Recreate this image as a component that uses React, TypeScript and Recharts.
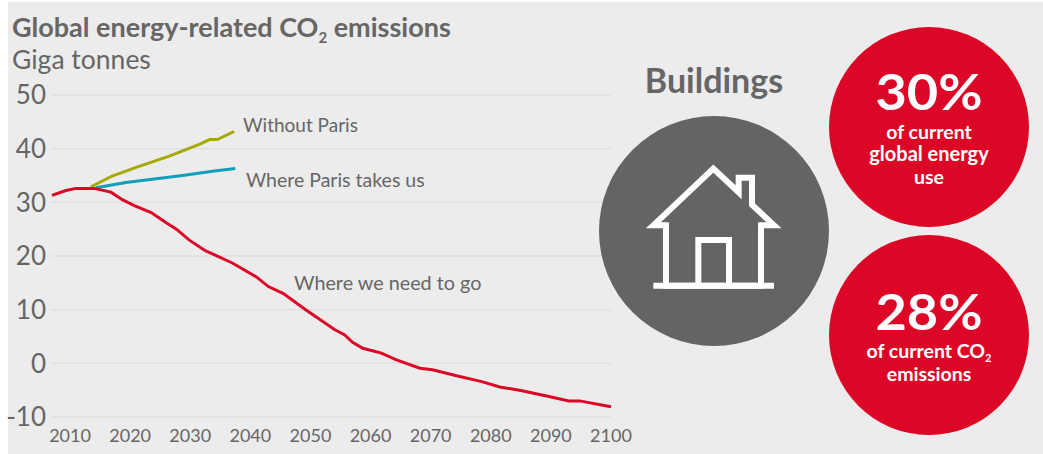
import { CartesianGrid, Line, LineChart, XAxis, YAxis } from 'recharts';

const xTicks = [2010, 2020, 2030, 2040, 2050, 2060, 2070, 2080, 2090, 2100];
const yTicks = [-10, 0, 10, 20, 30, 40, 50];

const needYears = [2007, 2009.3, 2011, 2014, 2016.8, 2018.7, 2020.7, 2023.5, 2026, 2027.7, 2029.8, 2032.5, 2037, 2041, 2043, 2045.5, 2049.2, 2054, 2055.7, 2057, 2058.7, 2061.8, 2064.2, 2068.2, 2070.3, 2074.3, 2078.5, 2081.5, 2085.2, 2089.3, 2093, 2094.8, 2100];
const needValues = [31.3, 32.2, 32.6, 32.6, 31.9, 30.5, 29.4, 28.1, 26.2, 25, 23, 21, 18.7, 16.1, 14.3, 13, 10, 6.3, 5.3, 3.9, 2.8, 1.9, 0.7, -0.9, -1.2, -2.3, -3.4, -4.4, -5.1, -6.1, -7, -7, -8.1];

const withoutYears = [2013.5, 2017, 2021, 2026.5, 2031.5, 2033.2, 2034.5, 2037.3];
const withoutValues = [32.9, 34.9, 36.5, 38.6, 40.8, 41.7, 41.7, 43.2];

const parisYears = [2014.3, 2019.3, 2028.7, 2033.7, 2037.5];
const parisValues = [32.7, 33.7, 35, 35.8, 36.3];

const toPoints = (years: number[], values: number[]) =>
  years.map((year, i) => ({ year, value: values[i] }));

const FONT = 'Lato, sans-serif';
const GREY = '#666666';
const RED = '#dc0727';

function App() {
  return (
    <div style={{ position: 'fixed', left: 0, top: 0, width: 1043, height: 454, background: '#fff', overflow: 'hidden' }}>
      <div style={{ position: 'absolute', left: 8, top: 2, width: 1035, height: 452, background: '#ececec' }} />
      <div style={{ position: 'absolute', left: 0, top: 0 }}>
        <LineChart width={1043} height={454} margin={{ top: 95, right: 432, bottom: 0, left: 0 }}>
          <CartesianGrid horizontal vertical={false} stroke="#e0e0e0" strokeWidth={1.5} />
          <XAxis
            dataKey="year"
            type="number"
            domain={[2007, 2100]}
            ticks={xTicks}
            allowDuplicatedCategory={false}
            axisLine={false}
            tickLine={false}
            interval={0}
            height={37}
            tickMargin={6}
            tick={{ fill: GREY, fontSize: 18, fontFamily: FONT }}
          />
          <YAxis
            type="number"
            domain={[-10, 50]}
            ticks={yTicks}
            axisLine={false}
            tickLine={false}
            width={52}
            tickMargin={0}
            tick={{ fill: GREY, fontSize: 26, fontFamily: FONT }}
          />
          <Line data={toPoints(withoutYears, withoutValues)} dataKey="value" stroke="#a5a900" strokeWidth={3} dot={false} isAnimationActive={false} />
          <Line data={toPoints(parisYears, parisValues)} dataKey="value" stroke="#0f9fb8" strokeWidth={3} dot={false} isAnimationActive={false} />
          <Line data={toPoints(needYears, needValues)} dataKey="value" stroke={RED} strokeWidth={3} dot={false} isAnimationActive={false} />
        </LineChart>
      </div>
      <svg width={1043} height={454} style={{ position: 'absolute', left: 0, top: 0 }} fontFamily={FONT}>
        <text x={12} y={37} fontSize={27} fontWeight={700} fill={GREY}>
          Global energy-related CO<tspan fontSize={15} dy={6}>2</tspan><tspan dy={-6}> emissions</tspan>
        </text>
        <text x={12} y={69} fontSize={26.5} fill={GREY}>Giga tonnes</text>
        <text x={243} y={132} fontSize={19} fill={GREY}>Without Paris</text>
        <text x={246} y={187} fontSize={19.5} fill={GREY}>Where Paris takes us</text>
        <text x={294} y={290} fontSize={19.8} fill={GREY}>Where we need to go</text>

        <text x={714} y={93} fontSize={34} fontWeight={700} fill={GREY} textAnchor="middle">Buildings</text>
        <circle cx={714} cy={231} r={115} fill="#646464" />
        <g transform="translate(590 0) scale(0.3333)" fill="none" stroke="#fff" strokeWidth={18}>
          <path d="M190 676 L370 506 L446 577 V533 H486 V614 L552 676 H513 V857 H228 V676 Z" />
          <path d="M190 857 H552" />
          <path d="M325 857 V720 H417 V857" />
        </g>

        <circle cx={929} cy={127} r={100} fill={RED} />
        <g fill="#fff" textAnchor="middle" fontWeight={700}>
          <text x={929} y={110} fontSize={50} textLength={107} lengthAdjust="spacingAndGlyphs">30%</text>
          <text x={929} y={139} fontSize={19.5}>of current</text>
          <text x={929} y={161} fontSize={20}>global energy</text>
          <text x={929} y={184} fontSize={19.5}>use</text>
        </g>

        <circle cx={929} cy={335} r={100} fill={RED} />
        <g fill="#fff" textAnchor="middle" fontWeight={700}>
          <text x={929} y={330} fontSize={50} textLength={107} lengthAdjust="spacingAndGlyphs">28%</text>
          <text x={929} y={358} fontSize={19.5}>
            of current CO<tspan fontSize={11} dy={4}>2</tspan>
          </text>
          <text x={929} y={381} fontSize={19.5}>emissions</text>
        </g>
      </svg>
    </div>
  );
}

export default App;
